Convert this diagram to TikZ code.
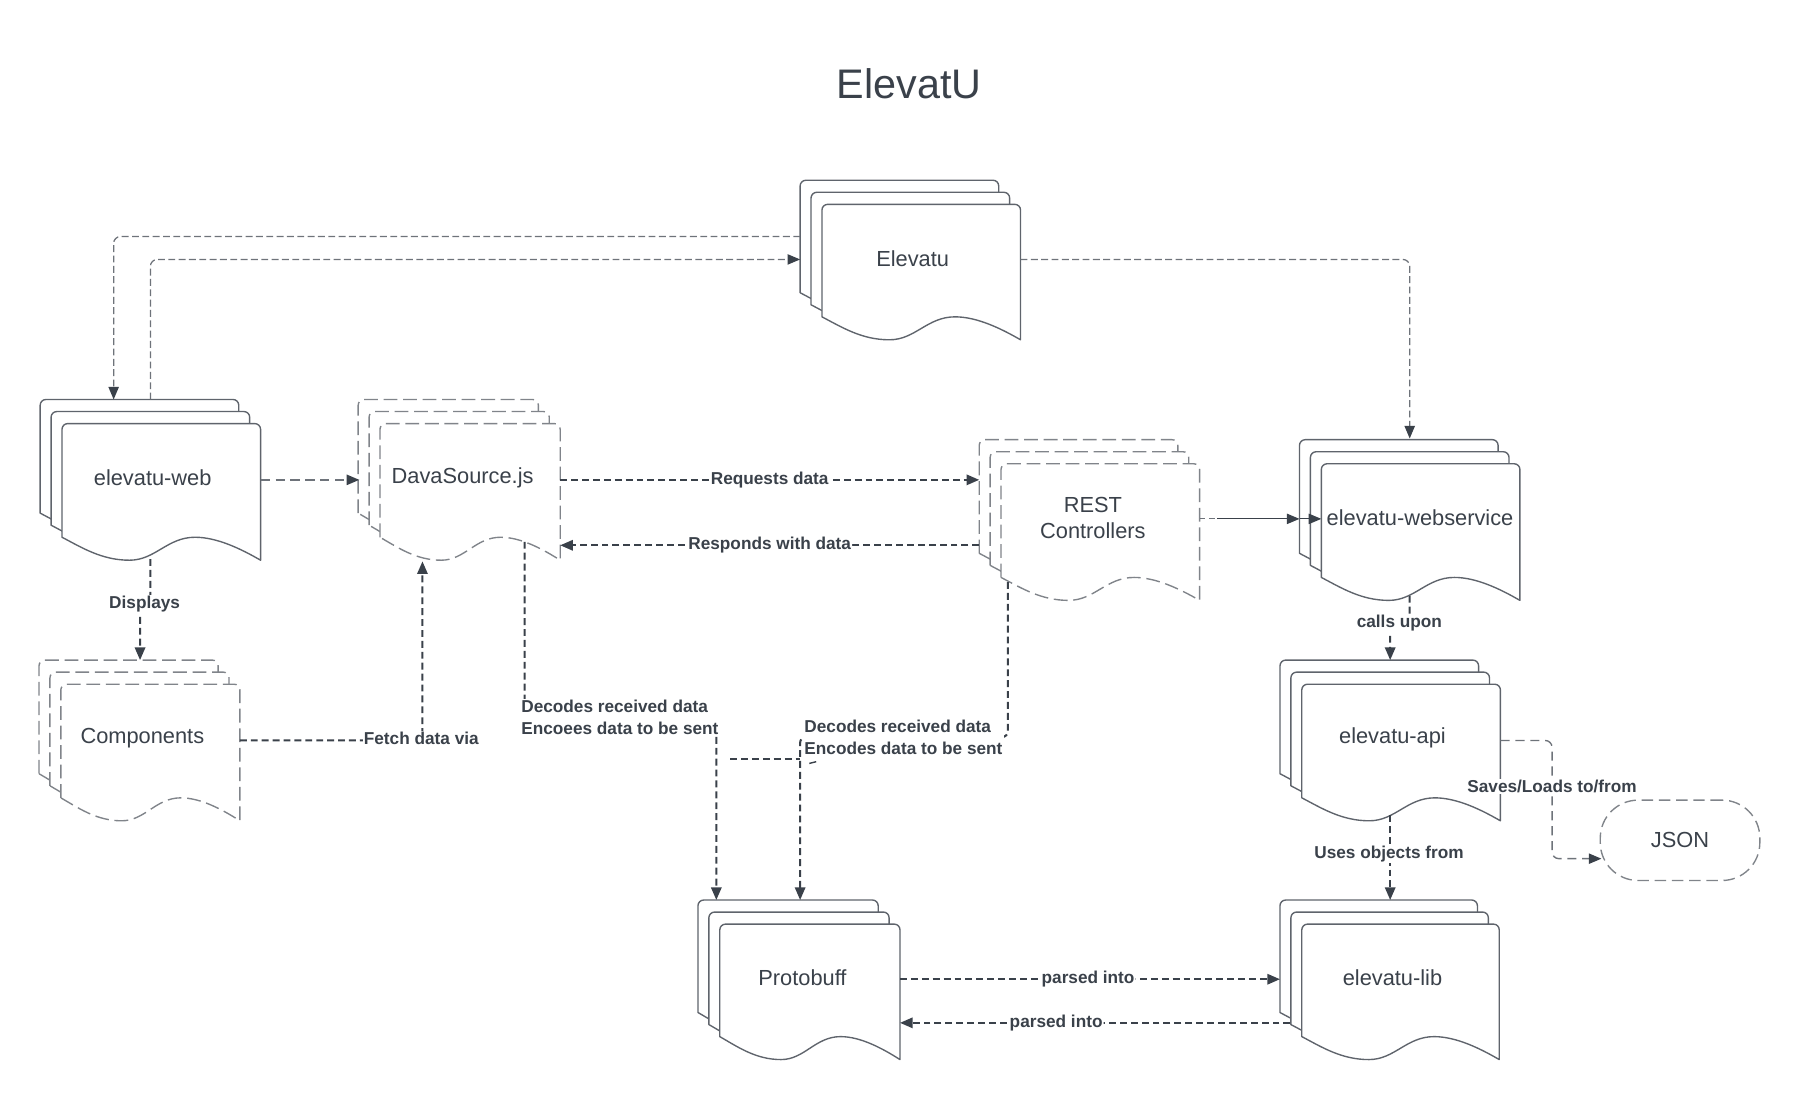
\documentclass[tikz,border=0pt]{standalone}
\usepackage{fontspec}
\setmainfont{Liberation Sans}
\usetikzlibrary{arrows.meta}
\definecolor{ink}{HTML}{3A414A}
\definecolor{edgec}{HTML}{5F646C}
\definecolor{dashc}{HTML}{80848A}
\definecolor{connc}{HTML}{6E737A}

% one page of a document shape: #1 style, #2 x, #3 y (top-left), #4 width, #5 height
\newcommand\docpage[5]{%
  \draw[#1] (#2,{#3+#5-20}) [rounded corners=5pt] -- (#2,#3) -- ({#2+#4},#3) [sharp corners] -- ({#2+#4},{#3+#5})
    .. controls ({#2+0.9*#4},{#3+#5-10}) and ({#2+0.78*#4},{#3+#5-20}) .. ({#2+0.67*#4},{#3+#5-20})
    .. controls ({#2+0.53*#4},{#3+#5-20}) and ({#2+0.47*#4},{#3+#5}) .. ({#2+0.34*#4},{#3+#5})
    .. controls ({#2+0.2*#4},{#3+#5}) and ({#2+0.1*#4},{#3+#5-11}) .. cycle;}

% stack of three pages: #1 name, #2 style, #3 x front, #4 y front, #5 w, #6 h, #7 text, #8 text x
\newcommand\docstack[8]{%
  \docpage{#2}{#3-19}{#4-21}{#5}{#6}
  \docpage{#2}{#3-9.5}{#4-10.5}{#5}{#6}
  \docpage{#2}{#3}{#4}{#5}{#6}
  \node[doctext] (#1) at (#8,{#4+47}) {#7};}

\begin{document}
\begin{tikzpicture}[x=1pt,y=-1pt,
  solidpage/.style={draw=edgec,fill=white,line width=1.2pt,line join=round},
  dashpage/.style={draw=dashc,fill=white,line width=1.2pt,dash pattern=on 12pt off 5pt},
  doctext/.style={font=\fontsize{19}{23}\selectfont,text=ink,align=center,inner sep=0pt},
  lbl/.style={font=\bfseries\fontsize{15}{19}\selectfont,text=ink,fill=white,inner sep=1pt},
  arrowend/.style={-{Triangle[length=11pt,width=9pt,color=ink]}},
  thinconn/.style={draw=connc,line width=1.1pt,dash pattern=on 6pt off 3pt,rounded corners=6pt,arrowend},
  midconn/.style={draw=connc,line width=1.2pt,dash pattern=on 8pt off 5pt,rounded corners=6pt,arrowend},
  boldconn/.style={draw=ink,line width=1.8pt,dash pattern=on 6pt off 3.5pt,rounded corners=5pt,arrowend},
]
\useasboundingbox (0,0) rectangle (1568,958);

\node[font=\fontsize{36}{42}\selectfont,text=ink] (title) at (792,73) {ElevatU};

\docstack{elev}{solidpage}{716}{178}{173}{118}{Elevatu}{795}
\docstack{web}{solidpage}{54}{369}{173}{119}{elevatu-web}{133}
\docstack{dava}{dashpage}{331}{369}{157}{119}{DavaSource.js}{403}
\docstack{comp}{dashpage}{53}{596}{156}{119}{Components}{124}
\docstack{rest}{dashpage}{872}{404}{173}{119}{REST\\Controllers}{952}
\docstack{ws}{solidpage}{1151}{404}{173}{119}{elevatu-webservice}{1237}
\docstack{api}{solidpage}{1134}{596}{173}{119}{elevatu-api}{1213}
\docstack{proto}{solidpage}{627}{805}{157}{118}{Protobuff}{699}
\docstack{lib}{solidpage}{1134}{805}{172}{118}{elevatu-lib}{1213}

\node[draw=dashc,line width=1.2pt,dash pattern=on 10pt off 5pt,rounded corners=33pt,
      minimum width=139pt,minimum height=70pt,inner sep=0pt,
      font=\fontsize{19}{23}\selectfont,text=ink] (json) at (1463.5,732) {JSON};

% connector end points
\coordinate (elev-l1) at (697,206);
\coordinate (elev-l2) at (697,226);
\coordinate (elev-r) at (889,226);
\coordinate (web-t1) at (99,348);
\coordinate (web-t2) at (131,348);
\coordinate (web-r) at (227,418);
\coordinate (web-b) at (131,487);
\coordinate (dava-l) at (313,418);
\coordinate (dava-r1) at (488,418);
\coordinate (dava-r2) at (488,475);
\coordinate (dava-b1) at (368,489);
\coordinate (dava-b2) at (457,472);
\coordinate (comp-t) at (122,575);
\coordinate (comp-r) at (209,645);
\coordinate (rest-l1) at (853,418);
\coordinate (rest-l2) at (853,475);
\coordinate (rest-r) at (1045,452);
\coordinate (rest-b) at (878,507);
\coordinate (ws-t) at (1228,382);
\coordinate (ws-l) at (1132,452);
\coordinate (ws-l2) at (1151,452);
\coordinate (ws-b) at (1228,519);
\coordinate (api-t) at (1211,575);
\coordinate (api-r) at (1307,645);
\coordinate (api-b) at (1211,710);
\coordinate (json-l) at (1395,748);
\coordinate (proto-t1) at (624,784);
\coordinate (proto-t2) at (697,784);
\coordinate (proto-r1) at (784,853);
\coordinate (proto-r2) at (784,891);
\coordinate (lib-t) at (1211,784);
\coordinate (lib-l1) at (1115,853);
\coordinate (lib-l2) at (1124,891);

% connectors
\draw[thinconn] (elev-l1) -| (web-t1);
\draw[thinconn] (web-t2) |- (elev-l2);
\draw[thinconn] (elev-r) -| (ws-t);
\draw[midconn] (web-r) -- (dava-l);
\draw[boldconn] (dava-r1) -- node[lbl] {Requests data} (rest-l1);
\draw[boldconn] (rest-l2) -- node[lbl] {Responds with data} (dava-r2);

\draw[draw=connc,line width=1pt,dash pattern=on 5pt off 3pt] (rest-r) -- (1062,452);
\draw[draw=ink,line width=1pt,arrowend] (1060,452) -- (ws-l);
\draw[draw=ink,line width=1pt,arrowend] (ws-l) -- (ws-l2);

\draw[boldconn] (web-b) -- (131,526) -- (122,526) -- (comp-t);
\node[lbl] (lbl-disp) at (126,526) {Displays};

\draw[boldconn] (comp-r) -| (dava-b1);
\node[lbl] (lbl-fetch) at (367,643) {Fetch data via};

\draw[boldconn] (dava-b2) -- (457,625) -- (624,625) -- (proto-t1);
\node[lbl,align=left] (lbl-dec1) at (540,625) {Decodes received data\\Encoees data to be sent};

\draw[boldconn] (rest-b) -- (878,642) -- (697,642) -- (proto-t2);
\node[lbl,align=left] (lbl-dec2) at (787,642) {Decodes received data\\Encodes data to be sent};

\draw[draw=ink,line width=1.8pt,dash pattern=on 6pt off 3.5pt] (636,661) -- (697,661);
\draw[draw=ink,line width=1.2pt] (705,665) -- (711,663.5);

\draw[boldconn] (ws-b) -- (1228,543) -- (1211,543) -- (api-t);
\node[lbl] (lbl-calls) at (1219,543) {calls upon};

\draw[midconn] (api-r) -- (1352,645) -- (1352,748) -- (json-l);
\node[lbl] (lbl-saves) at (1352,685) {Saves/Loads to/from};

\draw[boldconn] (api-b) -- (lib-t);
\node[lbl] (lbl-uses) at (1210,744) {Uses objects from};

\draw[boldconn] (proto-r1) -- node[lbl,pos=0.495] {parsed into} (lib-l1);
\draw[boldconn] (lib-l2) -- node[lbl,pos=0.6] {parsed into} (proto-r2);
\end{tikzpicture}
\end{document}
